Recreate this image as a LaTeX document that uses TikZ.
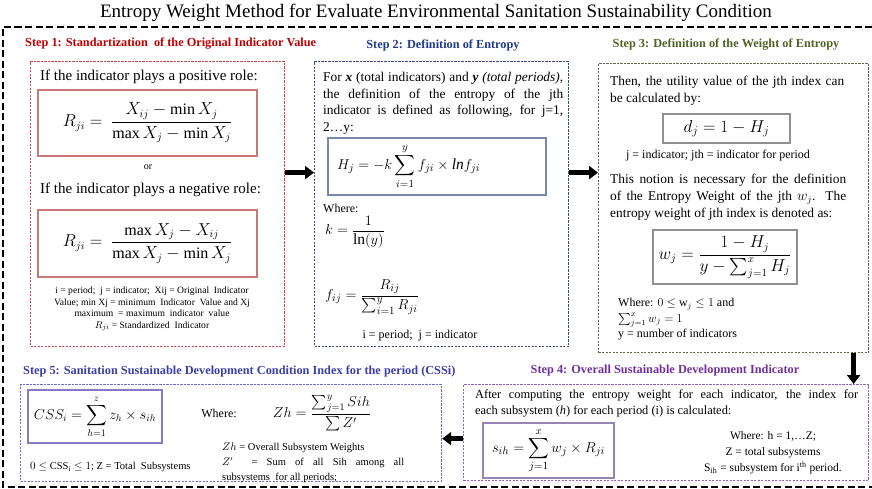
\documentclass[tikz,border=0pt]{standalone}
\usepackage{fontspec}
\setmainfont{Liberation Serif}
\usepackage{amsmath}
\usetikzlibrary{arrows.meta}

\definecolor{stepred}{HTML}{C00000}
\definecolor{boxred}{HTML}{D04545}
\definecolor{innerred}{HTML}{C87878}
\definecolor{stepnavy}{HTML}{1F3A8A}
\definecolor{boxnavy}{HTML}{3A4A8A}
\definecolor{innernavy}{HTML}{7A88A8}
\definecolor{stepolive}{HTML}{4F6228}
\definecolor{boxolive}{HTML}{5F6650}
\definecolor{innergray}{HTML}{909090}
\definecolor{steppurple}{HTML}{7030A0}
\definecolor{boxpurple}{HTML}{8A62C4}
\definecolor{innerpurple}{HTML}{9585B5}
\definecolor{stepslate}{HTML}{3D3DA8}
\definecolor{boxslate}{HTML}{6B6BD6}
\definecolor{innerslate}{HTML}{8A78C8}

% font size / baseline skip in pt
\newcommand{\fs}[2]{\fontsize{#1}{#2}\selectfont}
% a line stretched to the given width (justified line)
\newcommand{\jl}[2]{\makebox[#1][s]{#2}}
% large summation sign with limits above and below
\newcommand{\bigsum}[2]{\displaystyle\sum_{#1}^{#2}}

\tikzset{
  stepbox/.style={draw=#1, line width=1.2pt, dash pattern=on 2.2pt off 1.3pt,
                  anchor=north west, inner sep=0pt},
  fbox/.style={draw=#1, line width=1.1pt, inner sep=0pt},
  heading/.style={text=#1, font=\fs{12.3}{14}\bfseries, inner sep=0pt},
  body/.style={font=\fs{13.4}{16.7}, inner sep=0pt},
  note/.style={font=\fs{12}{14}, inner sep=0pt},
  bigarrow/.style={line width=4.5pt, -{Triangle[length=9pt,width=13pt]}},
  outer/.style={line width=2.4pt, dash pattern=on 7pt off 3.5pt}
}

\begin{document}
\begin{tikzpicture}[x=1pt,y=-1pt]
\useasboundingbox (0,0) rectangle (872,489);

% title and outer frame
\node[font=\fs{19}{21}, inner sep=0pt] (title) at (436,13)
  {Entropy Weight Method for Evaluate Environmental Sanitation Sustainability Condition};
\draw[outer] (872,27) -- (3,27) -- (3,487) -- (872,487);

% ---------- step boxes ----------
\node[stepbox=boxred,   minimum width=254pt, minimum height=285pt] (s1) at (30,61) {};
\node[stepbox=boxnavy,  minimum width=254pt, minimum height=285pt] (s2) at (314,61) {};
\node[stepbox=boxolive, minimum width=270pt, minimum height=289pt] (s3) at (598,63) {};
\node[stepbox=boxpurple,minimum width=405pt, minimum height=96pt]  (s4) at (463,384) {};
\node[stepbox=boxslate, minimum width=421pt, minimum height=97pt]  (s5) at (20,384) {};

% ---------- step 1 ----------
\node[heading=stepred, anchor=west] (h1) at (25,44)
  {Step 1: Standartization\ \ of the Original Indicator Value};
\node[font=\fs{15}{18}, inner sep=0pt, anchor=west] (t1a) at (40,77)
  {If the indicator plays a positive role:};
\node[fbox=innerred, minimum width=219pt, minimum height=66pt] (f1a) at (147.5,123)
  {\fs{16}{19}$R_{ji} =\ \dfrac{X_{ij} - \min X_j}{\max X_j - \min X_j}$};
\node[font=\fs{10}{12}, inner sep=0pt] (or) at (148,167) {or};
\node[font=\fs{15}{18}, inner sep=0pt, anchor=west] (t1b) at (40,190)
  {If the indicator plays a negative role:};
\node[fbox=innerred, minimum width=219pt, minimum height=67pt] (f1b) at (147.5,243.5)
  {\fs{16}{19}$R_{ji} =\ \dfrac{\max X_j - X_{ij}}{\max X_j - \min X_j}$};
\node[font=\fs{9.6}{11.7}, inner sep=0pt, align=center] (n1) at (152,309)
  {i = period;\ \ j = indicator;\ \ Xij = Original\ \ Indicator\\
   Value; min Xj = minimum\ \ Indicator\ \ Value and Xj\\
   maximum\ \ = maximum\ \ indicator\ \ value\\
   $R_{ji}$ = Standardized\ \ Indicator};

% ---------- step 2 ----------
\node[heading=stepnavy] (h2) at (443,45) {Step 2: Definition of Entropy};
\node[body, anchor=north west, align=left] (p2) at (323,72)
  {\jl{240pt}{For \textbf{\textit{x}} (total indicators) and \textbf{\textit{y}} \textit{(total periods)},}\\
   \jl{240pt}{the definition of the entropy of the jth}\\
   \jl{240pt}{indicator is defined as following, for j=1,}\\
   2\ldots y:};
\node[fbox=innernavy, minimum width=218pt, minimum height=57pt, text width=200pt, align=left]
  (f2) at (437,166.5)
  {\fs{15.5}{18}$H_j = -k\bigsum{i=1}{y} f_{ji} \times \mathit{ln} f_{ji}$};
\node[note, anchor=west] (w2) at (323,208) {Where:};
\node[font=\fs{15.5}{18}, inner sep=0pt, anchor=west] (k2) at (325,232)
  {$k = \dfrac{1}{\mathrm{ln}(y)}$};
\node[font=\fs{15.5}{18}, inner sep=0pt, anchor=west] (fij) at (325,297)
  {$f_{ij} = \dfrac{R_{ij}}{\sum_{i=1}^{y} R_{ji}}$};
\node[note] (n2) at (420,336) {i = period;\ \ j = indicator};

% ---------- step 3 ----------
\node[heading=stepolive] (h3) at (726,45) {Step 3: Definition of the Weight of Entropy};
\node[body, anchor=north west, align=left] (p3a) at (610,76)
  {\jl{234pt}{Then, the utility value of the jth index can}\\ be calculated by:};
\node[fbox=innergray, minimum width=127pt, minimum height=29pt] (f3a) at (726.5,128.5)
  {\fs{18}{20}$d_j = 1 - H_j$};
\node[note] (n3a) at (718,156) {j = indicator; jth = indicator for period};
\node[body, anchor=north west, align=left] (p3b) at (610,174)
  {\jl{236pt}{This notion is necessary for the definition}\\
   \jl{236pt}{of the Entropy Weight of the jth $w_j$. The}\\
   entropy weight of jth index is denoted as:};
\node[fbox=innergray, minimum width=144pt, minimum height=54pt] (f3b) at (725,257)
  {\fs{16}{19}$w_j = \dfrac{1 - H_j}{y - \sum_{j=1}^{x} H_j}$};
\node[font=\fs{12}{15.5}, inner sep=0pt, anchor=north west, align=left] (n3b) at (618,298)
  {Where: $0\leq$ w$_j\leq 1$ and\\ $\sum_{j=1}^{x} w_j = 1$\\ y = number of indicators};

% ---------- step 4 ----------
\node[heading=steppurple] (h4) at (665,371) {Step 4: Overall Sustainable Development Indicator};
\node[font=\fs{12.4}{16}, inner sep=0pt, anchor=north west, align=left] (p4) at (475,390)
  {\jl{383pt}{After computing the entropy weight for each indicator, the index for}\\
   each subsystem (\textit{h}) for each period (i) is calculated:};
\node[fbox=innerpurple, minimum width=131pt, minimum height=55pt] (f4) at (548.5,450.5)
  {\fs{15}{18}$s_{ih} = \bigsum{j=1}{x} w_j \times R_{ji}$};
\node[font=\fs{11.5}{16}, inner sep=0pt, align=center] (n4) at (773,453)
  {Where: h = 1,\ldots Z;\\ Z = total subsystems\\ S$_{\text{ih}}$ = subsystem for i$^{\text{th}}$ period.};

% ---------- step 5 ----------
\node[heading=stepslate, anchor=west] (h5) at (23,371)
  {Step 5: Sanitation Sustainable Development Condition Index for the period (CSSi)};
\node[fbox=innerslate, minimum width=134pt, minimum height=53pt] (f5) at (95,416.5)
  {\fs{14}{17}$CSS_i = \bigsum{h=1}{z} z_h \times s_{ih}$};
\node[note] (w5) at (219,413) {Where:};
\node[font=\fs{14.5}{17}, inner sep=0pt] (zh) at (322,413)
  {$Zh = \dfrac{\sum_{j=1}^{y} Sih}{\sum Z'}$};
\node[font=\fs{10.5}{12}, inner sep=0pt, anchor=west] (n5a) at (30,467)
  {$0\leq$ CSS$_{\text{i}}\leq 1$; Z = Total\ \ Subsystems};
\node[font=\fs{10.5}{15}, inner sep=0pt, anchor=north west, align=left] (n5b) at (222,443)
  {$Zh$ = Overall Subsystem Weights\\
   \jl{182pt}{$Z'$\ \ = Sum of all Sih among all}\\
   subsystems\ \ for all periods;};

% ---------- connectors ----------
\draw[bigarrow] ([yshift=31.5pt]s1.east) -- ([yshift=31.5pt]s1.east -| s2.west);
\draw[bigarrow] ([yshift=31.5pt]s2.east) -- ([yshift=31.5pt]s2.east -| s3.west);
\draw[bigarrow] ([xshift=120pt]s3.south) -- ([xshift=120pt]s3.south |- s4.north);
\draw[bigarrow] ([yshift=-6pt]s4.west) -- ([yshift=-6pt]s4.west -| s5.east);
\end{tikzpicture}
\end{document}
